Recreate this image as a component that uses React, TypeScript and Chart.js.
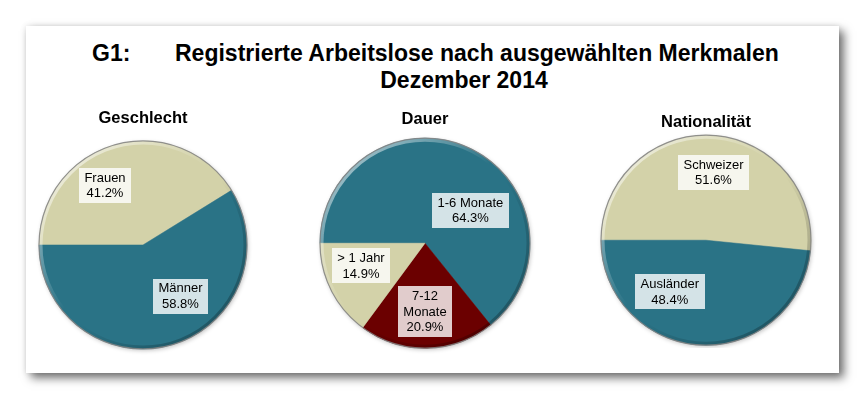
import React, { useEffect, useRef } from "react";
import { Chart, registerables } from "chart.js";

Chart.register(...registerables);

const FONT = "'Liberation Sans', Arial, Helvetica, sans-serif";

// ---------- data ----------
const mainTitlePrefix = "G1:";
const mainTitleLine1 = "Registrierte Arbeitslose nach ausgewählten Merkmalen";
const mainTitleLine2 = "Dezember 2014";

const geschlechtTitle = "Geschlecht";
const geschlechtCategories = ["Frauen", "Männer"];
const geschlechtValues = [41.2, 58.8];

const dauerTitle = "Dauer";
const dauerCategories = ["1-6 Monate", "7-12 Monate", "> 1 Jahr"];
const dauerValues = [64.3, 20.9, 14.9];

const nationalitaetTitle = "Nationalität";
const nationalitaetCategories = ["Schweizer", "Ausländer"];
const nationalitaetValues = [51.6, 48.4];

// ---------- styles ----------
const TAN = "#D3D2A9";
const TEAL = "#2A7386";
const DARKRED = "#6B0000";

type Placement = { angle: number; r: number; wrap?: boolean };

type PieSpec = {
  title: string;
  categories: string[];
  values: number[];
  colors: string[];
  placement: Placement[];
  cx: number;
  cy: number;
  radius: number;
  titleY: number;
};

const pies: PieSpec[] = [
  {
    title: geschlechtTitle,
    categories: geschlechtCategories,
    values: geschlechtValues,
    colors: [TAN, TEAL],
    placement: [
      { angle: 327.5, r: 0.68 },
      { angle: 143.8, r: 0.61 },
    ],
    cx: 143,
    cy: 245,
    radius: 104,
    titleY: 118,
  },
  {
    title: dauerTitle,
    categories: dauerCategories,
    values: dauerValues,
    colors: [TEAL, DARKRED, TAN],
    placement: [
      { angle: 54, r: 0.535 },
      { angle: 180, r: 0.65, wrap: true },
      { angle: 250.6, r: 0.646 },
    ],
    cx: 424.5,
    cy: 243,
    radius: 105,
    titleY: 119.5,
  },
  {
    title: nationalitaetTitle,
    categories: nationalitaetCategories,
    values: nationalitaetValues,
    colors: [TAN, TEAL],
    placement: [
      { angle: 6.3, r: 0.65 },
      { angle: 215.1, r: 0.6 },
    ],
    cx: 706,
    cy: 240,
    radius: 105,
    titleY: 122.5,
  },
];

const TOP = 100;
const CW = 260;
const TITLE_SIZE = 16.5;
const TITLE_LH = TITLE_SIZE * 1.2;

function PieChart({ spec }: { spec: PieSpec }) {
  const ref = useRef<HTMLCanvasElement | null>(null);
  const padTop = spec.titleY - TOP - TITLE_LH / 2;
  const th = padTop + TITLE_LH;
  const H = Math.round(2 * (spec.cy - TOP) - th);

  useEffect(() => {
    if (!ref.current) return;

    const bevelPlugin = {
      id: "bevel",
      beforeDatasetsDraw(chart: any) {
        const arc: any = chart.getDatasetMeta(0).data[0];
        if (!arc) return;
        const { x, y, outerRadius: r } = arc;
        const ctx = chart.ctx;
        ctx.save();
        ctx.shadowColor = "rgba(0,0,0,0.25)";
        ctx.shadowBlur = 4;
        ctx.shadowOffsetX = 1;
        ctx.shadowOffsetY = 1.5;
        ctx.beginPath();
        ctx.arc(x, y, r, 0, Math.PI * 2);
        ctx.fillStyle = "#aaa";
        ctx.fill();
        ctx.restore();
      },
      afterDatasetsDraw(chart: any) {
        const arc: any = chart.getDatasetMeta(0).data[0];
        if (!arc) return;
        const { x, y, outerRadius: r } = arc;
        const ctx = chart.ctx;
        ctx.save();
        ctx.beginPath();
        ctx.arc(x, y, r, 0, Math.PI * 2);
        ctx.clip();
        const g = ctx.createLinearGradient(x - r * 0.7, y - r * 0.7, x + r * 0.7, y + r * 0.7);
        g.addColorStop(0, "rgba(255,255,255,0.5)");
        g.addColorStop(0.45, "rgba(255,255,255,0)");
        g.addColorStop(0.55, "rgba(0,0,0,0)");
        g.addColorStop(1, "rgba(0,0,0,0.25)");
        ctx.lineWidth = 5;
        ctx.strokeStyle = g;
        ctx.beginPath();
        ctx.arc(x, y, r - 1, 0, Math.PI * 2);
        ctx.stroke();
        ctx.restore();
        ctx.save();
        ctx.beginPath();
        ctx.arc(x, y, r, 0, Math.PI * 2);
        ctx.lineWidth = 1.2;
        ctx.strokeStyle = "rgba(130,130,130,0.85)";
        ctx.stroke();
        ctx.restore();
      },
    };

    const labelPlugin = {
      id: "sliceLabels",
      afterDatasetsDraw(chart: any) {
        const ctx = chart.ctx;
        const meta = chart.getDatasetMeta(0);
        const labels: string[] = chart.data.labels as string[];
        const data: number[] = chart.data.datasets[0].data as number[];
        const LH = 15.5;
        const padX = 5.5;
        const padY = 2;
        ctx.save();
        ctx.font = `13px ${FONT}`;
        ctx.textAlign = "center";
        ctx.textBaseline = "middle";
        meta.data.forEach((arc: any, i: number) => {
          const p = spec.placement[i];
          const a = ((p.angle - 90) * Math.PI) / 180;
          const lx = arc.x + Math.cos(a) * arc.outerRadius * p.r;
          const ly = arc.y + Math.sin(a) * arc.outerRadius * p.r;
          const name = labels[i];
          const lines = [...(p.wrap ? name.split(" ") : [name]), data[i].toFixed(1) + "%"];
          const w = Math.max(...lines.map((l) => ctx.measureText(l).width)) + 2 * padX;
          const h = lines.length * LH + 2 * padY;
          ctx.fillStyle = "rgba(255,255,255,0.8)";
          ctx.fillRect(Math.round(lx - w / 2), Math.round(ly - h / 2), Math.round(w), Math.round(h));
          ctx.fillStyle = "#000";
          lines.forEach((l, j) => {
            ctx.fillText(l, lx, ly - h / 2 + padY + LH * (j + 0.5) + 0.5);
          });
        });
        ctx.restore();
      },
    };

    const chart = new Chart(ref.current, {
      type: "pie",
      data: {
        labels: spec.categories,
        datasets: [
          {
            data: spec.values,
            backgroundColor: spec.colors,
            borderColor: spec.colors,
            borderWidth: 0.5,
            radius: spec.radius,
          } as any,
        ],
      },
      options: {
        responsive: false,
        maintainAspectRatio: false,
        animation: false,
        rotation: -90,
        layout: { padding: 0 },
        plugins: {
          legend: { display: false },
          tooltip: { enabled: false },
          title: {
            display: true,
            text: spec.title,
            color: "#000",
            font: { family: FONT, size: TITLE_SIZE, weight: "bold", lineHeight: 1.2 },
            padding: { top: padTop, bottom: 0 },
          },
        },
        events: [],
      } as any,
      plugins: [bevelPlugin, labelPlugin],
    });
    return () => chart.destroy();
  }, [spec]);

  return (
    <canvas
      ref={ref}
      width={CW}
      height={H}
      style={{
        position: "absolute",
        left: spec.cx - CW / 2,
        top: TOP,
        width: CW,
        height: H,
      }}
    />
  );
}

export default function App() {
  const titleStyle: React.CSSProperties = {
    position: "absolute",
    fontFamily: FONT,
    fontWeight: "bold",
    fontSize: 23,
    lineHeight: "27px",
    color: "#000",
    whiteSpace: "nowrap",
  };
  return (
    <div
      style={{
        position: "absolute",
        left: 0,
        top: 0,
        width: 865,
        height: 399,
        background: "#fff",
        overflow: "hidden",
      }}
    >
      <div
        style={{
          position: "absolute",
          left: 26,
          top: 26,
          width: 813,
          height: 347,
          background: "#fff",
          boxShadow: "5px 5px 9px rgba(0,0,0,0.55), 0 0 6px rgba(0,0,0,0.12)",
        }}
      />
      <div style={{ ...titleStyle, left: 92, top: 40 }}>{mainTitlePrefix}</div>
      <div style={{ ...titleStyle, left: 175, top: 40 }}>{mainTitleLine1}</div>
      <div style={{ ...titleStyle, left: 464, top: 67, transform: "translateX(-50%)" }}>{mainTitleLine2}</div>
      {pies.map((p) => (
        <PieChart key={p.title} spec={p} />
      ))}
    </div>
  );
}
